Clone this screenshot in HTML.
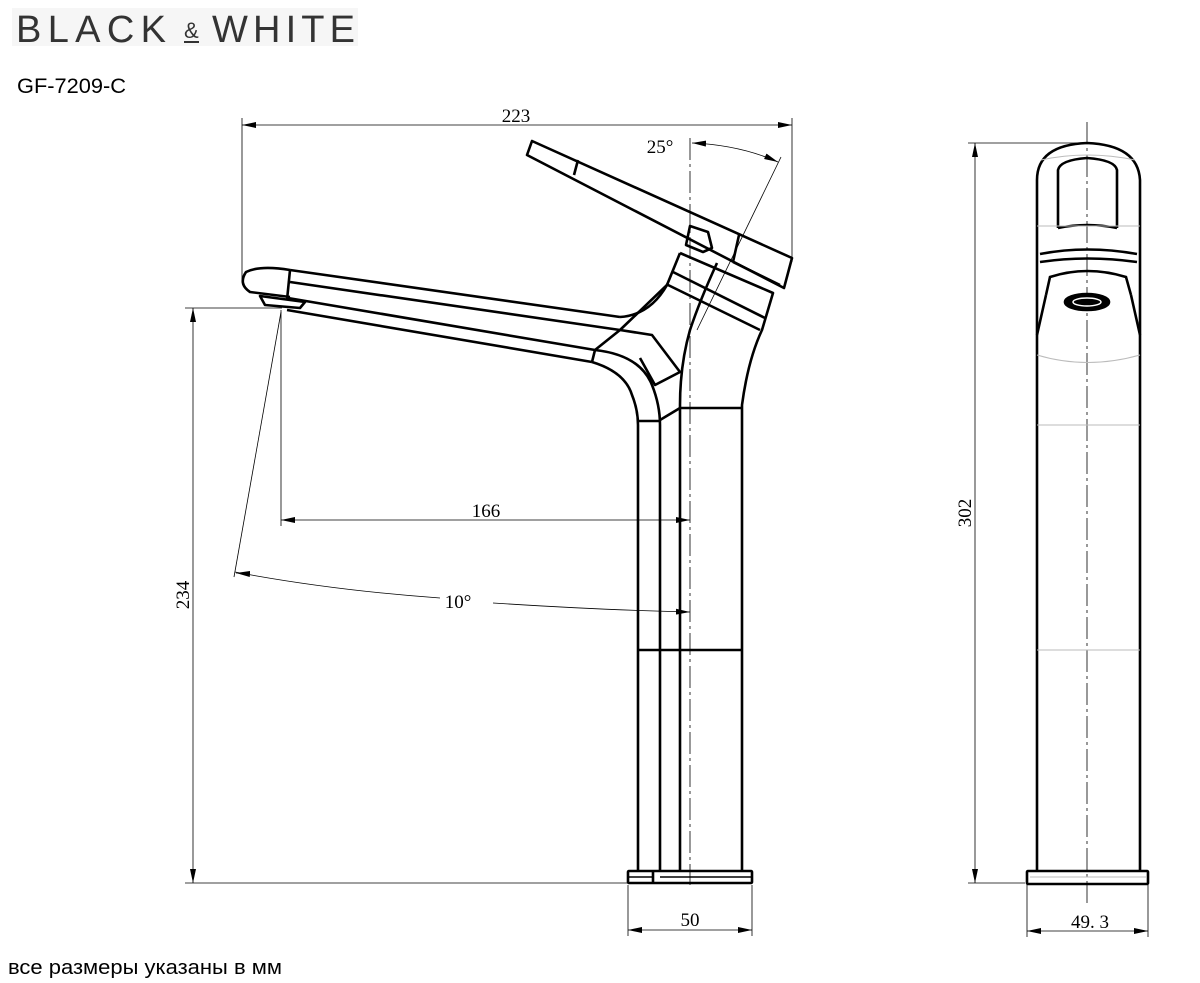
<!DOCTYPE html>
<html><head><meta charset="utf-8"><style>
html,body{margin:0;padding:0;background:#fff}
body{width:1200px;height:983px;position:relative;overflow:hidden;font-family:"Liberation Sans",sans-serif}
.logo{position:absolute;left:12px;top:8px;width:346px;height:38px;background:#f6f6f6}
</style></head><body>
<div class="logo"></div>
<svg width="1200" height="983" viewBox="0 0 1200 983" style="position:absolute;left:0;top:0">
<defs>
<marker id="a" markerWidth="14" markerHeight="6" refX="14" refY="3" orient="auto" markerUnits="userSpaceOnUse"><path d="M0,0 L14,3 L0,6 z" fill="#000"/></marker>
<marker id="b" markerWidth="14" markerHeight="6" refX="0" refY="3" orient="auto" markerUnits="userSpaceOnUse"><path d="M14,0 L0,3 L14,6 z" fill="#000"/></marker>
</defs>
<text x="16" y="42" font-family="Liberation Sans" font-size="38" fill="#333" textLength="150" lengthAdjust="spacing">BLACK</text>
<text x="184" y="38" font-family="Liberation Sans" font-size="22" fill="#333">&amp;</text>
<line x1="184" y1="42" x2="199" y2="42" stroke="#333" stroke-width="2"/>
<text x="212" y="42" font-family="Liberation Sans" font-size="38" fill="#333" textLength="143" lengthAdjust="spacing">WHITE</text>
<text x="17" y="93" font-size="21" fill="#000" textLength="109" lengthAdjust="spacingAndGlyphs">GF-7209-C</text>
<text x="8" y="974" font-size="20.5" fill="#000" textLength="274" lengthAdjust="spacingAndGlyphs">все размеры указаны в мм</text>

<g fill="none" stroke="#000" stroke-width="0.8">
<line x1="242" y1="118" x2="242" y2="282"/><line x1="792" y1="118" x2="792" y2="262"/>
<line x1="242" y1="125" x2="792" y2="125" marker-start="url(#b)" marker-end="url(#a)"/>
<line x1="690" y1="138" x2="690" y2="885" stroke-dasharray="22,4,3,4"/>
<path d="M692,143 Q740,145 778,162" marker-start="url(#b)" marker-end="url(#a)"/>
<line x1="781" y1="157" x2="697" y2="330"/>
<line x1="185" y1="308" x2="282" y2="308"/><line x1="185" y1="883" x2="628" y2="883"/>
<line x1="193" y1="308" x2="193" y2="883" marker-start="url(#b)" marker-end="url(#a)"/>
<line x1="281" y1="310" x2="281" y2="526"/>
<line x1="281" y1="520" x2="690" y2="520" marker-start="url(#b)" marker-end="url(#a)"/>
<line x1="281" y1="312" x2="234" y2="577"/>
<path d="M235,572 Q330,590 440,598"/>
<path d="M493,603 Q600,610 690,612" marker-end="url(#a)"/>
<line x1="236" y1="573" x2="250" y2="574" marker-start="url(#b)"/>
<line x1="628" y1="885" x2="628" y2="936"/><line x1="752" y1="885" x2="752" y2="936"/>
<line x1="628" y1="930" x2="752" y2="930" marker-start="url(#b)" marker-end="url(#a)"/>
<line x1="968" y1="143" x2="1087" y2="143"/><line x1="968" y1="883" x2="1025" y2="883"/>
<line x1="975" y1="143" x2="975" y2="883" marker-start="url(#b)" marker-end="url(#a)"/>
<line x1="1027" y1="885" x2="1027" y2="937"/><line x1="1148" y1="885" x2="1148" y2="937"/>
<line x1="1027" y1="931" x2="1148" y2="931" marker-start="url(#b)" marker-end="url(#a)"/>
<line x1="1087" y1="122" x2="1087" y2="903" stroke-dasharray="22,4,3,4"/>
</g>
<g font-family="Liberation Serif" font-size="19" fill="#000" text-anchor="middle">
<text x="516" y="122">223</text>
<text x="660" y="153">25°</text>
<text x="486" y="517">166</text>
<text x="458" y="608">10°</text>
<text x="690" y="926">50</text>
<text x="1090" y="928">49. 3</text>
<text transform="translate(189,595) rotate(-90)">234</text>
<text transform="translate(971,513) rotate(-90)">302</text>
</g>

<g fill="none" stroke="#000" stroke-width="2.6" stroke-linejoin="round">
<path d="M532,141 L792,258 L784,288 L527,155 Z"/>
<line x1="578" y1="160" x2="574" y2="175"/>
<line x1="739" y1="235" x2="733" y2="262"/>
<path d="M733,262 L780,285"/>
<path d="M690,226 L708,232 L712,248 L703,252 L686,245 Z"/>
<path d="M680,253 L773,293 L762,330 Q748,360 742,405 L742,870"/>
<path d="M680,253 L667,285 Q650,315 620,317"/>
<path d="M673,272 L765,318"/><path d="M666,284 L760,330"/>
<path d="M717,263 Q700,300 690,330 Q680,365 680,405 L680,870"/>
<path d="M290,270 Q260,265 246,272 Q238,284 250,292 L290,297"/>
<path d="M290,270 L620,317"/>
<path d="M290,282 L620,330 L667,285"/>
<line x1="290" y1="270" x2="287" y2="300"/>
<path d="M288,298 L595,350 L620,330"/>
<path d="M287,310 L592,362"/>
<line x1="595" y1="350" x2="592" y2="362"/>
<path d="M592,362 Q625,372 632,395 Q638,410 638,425 L638,870"/>
<path d="M595,350 Q640,355 652,385 Q660,405 660,425 L660,870"/>
<path d="M620,330 L652,335 L680,372 L655,385 L640,358"/>
<path d="M660,420 L680,408"/>
<line x1="638" y1="421" x2="660" y2="421"/>
<line x1="680" y1="408" x2="742" y2="408"/>
<line x1="638" y1="650" x2="742" y2="650"/>
<path d="M260,296 L305,302 L300,308 L265,305 Z"/>
<rect x="628" y="871" width="124" height="12" rx="1"/>
<line x1="628" y1="877" x2="653" y2="877" stroke-width="1.5"/>
<line x1="660" y1="877" x2="752" y2="877" stroke-width="1.5"/>
<line x1="653" y1="871" x2="653" y2="883"/>
</g>

<g fill="none" stroke="#000" stroke-width="2.6">
<path d="M1037,870 L1037,180 Q1037,145 1087,143 Q1138,145 1140,180 L1140,870"/>
<path d="M1058,228 L1058,170 Q1060,160 1087,158 Q1115,160 1117,170 L1117,228"/>
<path d="M1058,228 Q1087,222 1117,228"/>
<path d="M1040,254 Q1087,245 1137,254"/>
<path d="M1040,262 Q1087,255 1137,262"/>
<path d="M1046,295 L1050,277 Q1087,265 1126,277 L1131,295"/>
<path d="M1037,335 L1046,295 M1140,335 L1131,295"/>
<ellipse cx="1087" cy="302" rx="22" ry="8" fill="#000"/>
<ellipse cx="1087" cy="302" rx="14" ry="4" stroke="#fff" stroke-width="1.5"/>
<rect x="1027" y="871" width="121" height="13" rx="1"/>
</g>
<g fill="none" stroke="#bbb" stroke-width="1">
<path d="M1041,160 Q1087,150 1135,160"/>
<line x1="1037" y1="226" x2="1140" y2="226"/>
<path d="M1037,355 Q1087,370 1140,355"/>
<line x1="1037" y1="425" x2="1140" y2="425"/>
<line x1="1037" y1="650" x2="1140" y2="650"/>
<line x1="1030" y1="877" x2="1146" y2="877"/>
</g>
</svg>
</body></html>
